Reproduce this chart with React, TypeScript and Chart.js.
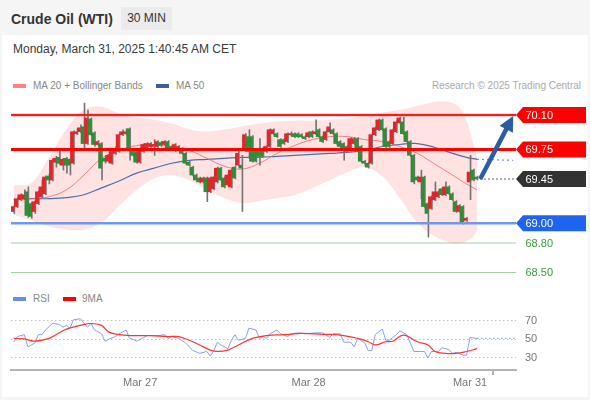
import React, { useEffect, useRef } from 'react';
import { Chart, registerables } from 'chart.js';

Chart.register(...registerables);

const FONT = '"Liberation Sans", Arial, Helvetica, sans-serif';

// ---- 30-minute candles (index 0 = first bar on the chart) ----
const opens = [69.12,69.17,69.24,69.25,69.32,69.20,69.12,69.20,69.27,69.30,69.48,69.44,69.62,69.67,69.59,69.66,69.65,69.61,69.91,69.93,69.98,69.81,70.06,69.92,69.80,69.81,69.66,69.63,69.61,69.71,69.73,69.90,69.91,69.96,69.73,69.73,69.62,69.73,69.76,69.78,69.78,69.78,69.82,69.80,69.83,69.78,69.74,69.75,69.76,69.71,69.62,69.57,69.49,69.46,69.42,69.46,69.32,69.35,69.42,69.56,69.46,69.39,69.37,69.57,69.59,69.59,69.74,69.88,69.88,69.74,69.76,69.76,69.73,69.78,69.91,69.91,69.85,69.85,69.83,69.90,69.91,69.91,69.90,69.88,69.88,69.93,69.91,69.95,69.88,69.85,69.93,69.95,69.91,69.83,69.81,69.78,69.74,69.81,69.86,69.78,69.63,69.61,69.61,69.90,69.95,70.05,69.96,69.83,69.81,69.93,70.02,70.03,69.93,69.83,69.69,69.47,69.42,69.47,69.20,69.15,69.24,69.27,69.35,69.29,69.37,69.30,69.22,69.12,69.17,69.03,69.42,69.54,69.47];
const highs = [69.18,69.26,69.30,69.34,69.37,69.21,69.23,69.33,69.44,69.48,69.50,69.65,69.68,69.73,69.66,69.67,69.66,69.94,69.96,70.00,70.22,70.15,70.07,69.93,69.84,69.82,69.67,69.70,69.74,69.78,69.91,69.95,69.96,69.97,69.74,69.74,69.75,69.81,69.82,69.82,69.85,69.84,69.83,69.84,69.84,69.79,69.81,69.79,69.77,69.72,69.63,69.58,69.50,69.47,69.47,69.47,69.47,69.48,69.57,69.57,69.47,69.50,69.55,69.58,69.74,69.69,69.91,69.95,69.89,69.75,69.86,69.77,69.79,69.96,69.96,69.92,69.86,69.86,69.92,69.93,69.92,69.92,69.91,69.89,69.93,69.94,70.05,69.96,69.89,69.94,70.02,69.96,69.92,69.84,69.82,69.79,69.87,69.87,69.87,69.79,69.64,69.62,69.91,69.98,70.06,70.06,69.97,69.84,69.96,70.04,70.08,70.08,69.94,69.84,69.70,69.48,69.54,69.48,69.21,69.28,69.42,69.33,69.36,69.42,69.38,69.31,69.23,69.19,69.18,69.06,69.69,69.55,69.48];
const lows = [69.10,69.16,69.23,69.24,69.06,69.05,69.10,69.19,69.26,69.29,69.40,69.43,69.57,69.60,69.54,69.51,69.49,69.60,69.90,69.92,69.76,69.80,69.89,69.78,69.79,69.44,69.61,69.62,69.60,69.70,69.72,69.89,69.90,69.64,69.68,69.61,69.61,69.72,69.75,69.77,69.69,69.77,69.78,69.79,69.75,69.74,69.73,69.74,69.70,69.60,69.58,69.48,69.43,69.41,69.41,69.22,69.31,69.34,69.41,69.43,69.36,69.38,69.36,69.45,69.58,69.12,69.73,69.66,69.62,69.62,69.59,69.67,69.72,69.77,69.90,69.87,69.77,69.80,69.82,69.89,69.87,69.87,69.87,69.85,69.87,69.87,69.90,69.87,69.82,69.84,69.92,69.90,69.80,69.77,69.64,69.72,69.73,69.80,69.75,69.62,69.59,69.56,69.60,69.89,69.94,69.94,69.77,69.77,69.80,69.92,70.01,69.90,69.82,69.68,69.40,69.43,69.25,69.16,68.86,69.14,69.23,69.26,69.28,69.28,69.29,69.23,69.11,69.11,68.99,69.02,69.24,69.43,69.44];
const closes = [69.17,69.25,69.29,69.29,69.08,69.07,69.22,69.32,69.37,69.47,69.44,69.64,69.66,69.61,69.65,69.59,69.59,69.93,69.93,69.97,69.81,70.07,69.90,69.80,69.83,69.56,69.63,69.69,69.73,69.76,69.90,69.93,69.93,69.74,69.69,69.62,69.74,69.80,69.81,69.81,69.80,69.83,69.79,69.83,69.76,69.75,69.80,69.78,69.71,69.61,69.59,69.49,69.44,69.42,69.46,69.32,69.46,69.47,69.56,69.44,69.37,69.49,69.54,69.46,69.71,69.56,69.90,69.73,69.63,69.63,69.68,69.68,69.78,69.95,69.95,69.88,69.78,69.81,69.91,69.91,69.88,69.88,69.88,69.86,69.92,69.88,69.93,69.88,69.83,69.93,69.98,69.91,69.81,69.78,69.74,69.73,69.86,69.86,69.76,69.63,69.61,69.57,69.90,69.97,70.05,69.95,69.78,69.78,69.95,70.03,70.07,69.91,69.83,69.69,69.42,69.44,69.47,69.17,69.10,69.27,69.32,69.32,69.29,69.37,69.30,69.24,69.12,69.18,69.00,69.05,69.52,69.44,69.45];

// ---- x axis (bar index) ----
const xMinIdx = -0.8;
const xMaxIdx = 143.1;
const dayTickIdx = [36, 84, 130];
const dayTickLabels = ['Mar 27', 'Mar 28', 'Mar 31'];

// ---- MA 20 + Bollinger Bands ----
const bandIdx = [0,5,10,15,20,25,30,35,40,45,50,55,60,65,70,75,80,85,90,95,100,105,110,115,120,125,127,129,131,132];
const upperBand = [69.38,69.41,69.66,69.95,70.15,70.18,70.11,70.07,70.05,70.01,69.95,69.93,69.95,69.98,70.01,70.03,70.04,70.04,70.05,70.06,70.09,70.12,70.15,70.19,70.23,70.22,70.17,70.03,69.79,69.66];
const lowerBand = [69.09,69.03,68.97,68.94,68.94,69.01,69.18,69.34,69.46,69.49,69.44,69.34,69.26,69.21,69.23,69.26,69.29,69.36,69.44,69.52,69.57,69.48,69.26,69.01,68.87,68.80,68.80,68.82,68.87,68.94];
const maIdx = [0,5,10,15,20,25,30,35,40,45,50,55,60,65,70,75,80,85,90,95,100,105,110,115,120,125,129,132];
const ma20 = [69.24,69.25,69.27,69.34,69.49,69.66,69.74,69.79,69.80,69.78,69.74,69.66,69.58,69.55,69.61,69.71,69.79,69.85,69.88,69.88,69.85,69.83,69.78,69.71,69.60,69.49,69.40,69.34];
const ma50 = [69.24,69.25,69.25,69.26,69.29,69.36,69.43,69.51,69.56,69.61,69.64,69.65,69.66,69.67,69.67,69.68,69.69,69.70,69.71,69.72,69.74,69.78,69.80,69.81,69.77,69.71,69.67,69.65];
const ma50Projection = 69.64;

// ---- RSI panel ----
const rsiIdx = [0,1,3,4,6,7,8,9,11,13,14,15,16,17,19,21,22,23,25,26,27,29,30,32,33,34,35,37,38,41,43,44,45,47,49,51,53,55,56,57,58,59,61,62,63,64,66,67,69,70,71,72,73,75,76,78,79,81,83,86,88,90,91,93,94,96,97,98,100,101,102,103,105,106,107,109,110,112,113,114,116,117,118,119,121,122,124,125,126,128,129,130,132];
const rsiVal = [47,53,55,42,46,55,55,60,67,66,63,65,62,71,72,63,67,60,56,48,50,53,56,60,51,50,48,52,54,54,55,51,53,51,46,38,35,37,32,38,47,44,40,49,55,49,51,62,60,51,53,51,56,60,56,53,56,57,56,57,57,52,56,56,47,47,42,51,46,38,38,55,61,49,49,55,59,55,46,37,37,37,30,37,37,41,39,35,36,33,33,52,51];
const rsi9Idx = [0,3,6,10,12,15,19,22,25,27,30,34,39,44,47,50,53,56,58,61,64,68,72,77,82,88,93,98,101,103,106,108,111,115,118,120,123,126,129,132];
const rsi9Val = [51,50.5,48,51,55,61,65,67,65,58,55,54,54,53,53,49,44,38.5,37,38.5,44,51,54,55,56.4,55.4,54.6,51,47.4,44,47.4,48,54.6,47.4,44,37,35,35,37,40];
const rsiProjection = 51;
const rsiTicks = [30, 50, 70];

// ---- key levels and target ----
const levelValues = [70.10, 69.75, 69.45, 69.00, 68.80, 68.50];
const levelLabels = ['70.10', '69.75', '69.45', '69.00', '68.80', '68.50'];
const arrowFromIdx = 132.9;
const arrowFromPrice = 69.45;
const arrowToIdx = 142.3;
const arrowToPrice = 70.09;

const levelStyles = [
  { line: '#ff1a1a', width: 2, halo: 'rgba(255,90,90,0.3)', box: '#ff0000', text: '#ffffff' },
  { line: '#ff0000', width: 3, halo: null, box: '#ff0000', text: '#ffffff' },
  { line: null, width: 0, halo: null, box: '#333333', text: '#ffffff', dotted: '#333333' },
  { line: '#6f97ec', width: 2.5, halo: null, box: '#1f64f0', text: '#ffffff' },
  { line: '#9fd09f', width: 1.2, halo: null, box: null, text: '#3c9a3c' },
  { line: '#9fd09f', width: 1.2, halo: null, box: null, text: '#3c9a3c' },
];

const UP = '#e0262a';
const DOWN = '#2f8d38';

const levelsPlugin = {
  id: 'levelsAndTarget',
  afterDatasetsDraw(chart: any) {
    const { ctx, chartArea, scales } = chart;
    const xs = scales.x;
    const ys = scales.y;
    ctx.save();
    levelValues.forEach((v, k) => {
      const st: any = levelStyles[k];
      const py = ys.getPixelForValue(v);
      if (st.line) {
        if (st.halo) {
          ctx.beginPath();
          ctx.strokeStyle = st.halo;
          ctx.lineWidth = st.width + 1.5;
          ctx.moveTo(chartArea.left, py);
          ctx.lineTo(chartArea.right, py);
          ctx.stroke();
        }
        ctx.beginPath();
        ctx.strokeStyle = st.line;
        ctx.lineWidth = st.width;
        ctx.moveTo(chartArea.left, py);
        ctx.lineTo(chartArea.right, py);
        ctx.stroke();
      }
      if (st.dotted) {
        ctx.beginPath();
        ctx.setLineDash([1.5, 2.5]);
        ctx.strokeStyle = st.dotted;
        ctx.lineWidth = 1.2;
        ctx.moveTo(xs.getPixelForValue(arrowFromIdx), py);
        ctx.lineTo(chartArea.right, py);
        ctx.stroke();
        ctx.setLineDash([]);
      }
      const r = chartArea.right;
      if (st.box) {
        ctx.beginPath();
        ctx.fillStyle = st.box;
        ctx.moveTo(r, py);
        ctx.lineTo(r + 7, py - 8);
        ctx.lineTo(r + 70, py - 8);
        ctx.lineTo(r + 70, py + 8);
        ctx.lineTo(r + 7, py + 8);
        ctx.closePath();
        ctx.fill();
      }
      ctx.fillStyle = st.text;
      ctx.font = '11px ' + FONT;
      ctx.textBaseline = 'middle';
      ctx.textAlign = 'left';
      ctx.fillText(levelLabels[k], r + 9.5, py + 0.5);
    });

    // target arrow
    const x0 = xs.getPixelForValue(arrowFromIdx);
    const y0 = ys.getPixelForValue(arrowFromPrice);
    const x1 = xs.getPixelForValue(arrowToIdx);
    const y1 = ys.getPixelForValue(arrowToPrice);
    const ang = Math.atan2(y1 - y0, x1 - x0);
    const headLen = 15;
    const headHalf = 7.5;
    const bx = x1 - headLen * Math.cos(ang);
    const by = y1 - headLen * Math.sin(ang);
    ctx.strokeStyle = '#2c5ca6';
    ctx.fillStyle = '#2c5ca6';
    ctx.lineWidth = 4.5;
    ctx.lineCap = 'butt';
    ctx.beginPath();
    ctx.moveTo(x0, y0);
    ctx.lineTo(bx + Math.cos(ang), by + Math.sin(ang));
    ctx.stroke();
    ctx.beginPath();
    ctx.moveTo(x1, y1);
    ctx.lineTo(bx - headHalf * Math.sin(ang), by + headHalf * Math.cos(ang));
    ctx.lineTo(bx + headHalf * Math.sin(ang), by - headHalf * Math.cos(ang));
    ctx.closePath();
    ctx.fill();
    ctx.restore();
  },
};

const pts = (idx: number[], vals: number[]) => idx.map((i, k) => ({ x: i, y: vals[k] }));

export default function App() {
  const ref = useRef<HTMLCanvasElement>(null);

  useEffect(() => {
    Chart.defaults.font.family = FONT;
    const barIdx = opens.map((_, i) => i);
    const bodyColors = barIdx.map((i) => (closes[i] >= opens[i] ? UP : DOWN));
    const lastIdx = barIdx[barIdx.length - 1];

    const chart = new Chart(ref.current as HTMLCanvasElement, {
      type: 'line',
      data: {
        datasets: [
          {
            type: 'bar',
            label: 'body',
            data: barIdx.map((i) => ({ x: i, y: [opens[i], closes[i]] })) as any,
            backgroundColor: bodyColors,
            barThickness: 3,
            minBarLength: 1,
            yAxisID: 'y',
            order: 1,
          } as any,
          {
            type: 'bar',
            label: 'wick',
            data: barIdx.map((i) => ({ x: i, y: [lows[i], highs[i]] })) as any,
            backgroundColor: '#747474',
            barThickness: 1,
            yAxisID: 'y',
            order: 2,
          } as any,
          {
            label: 'MA 20',
            data: pts(maIdx, ma20),
            borderColor: 'rgba(236,100,100,0.8)',
            borderWidth: 1,
            pointRadius: 0,
            tension: 0.4,
            yAxisID: 'y',
            order: 5,
          },
          {
            label: 'MA 50',
            data: pts(maIdx, ma50),
            borderColor: '#4a6ea8',
            borderWidth: 1.2,
            pointRadius: 0,
            tension: 0.4,
            yAxisID: 'y',
            order: 5,
          },
          {
            label: 'MA 50 projection',
            data: [
              { x: lastIdx, y: ma50[ma50.length - 1] },
              { x: arrowToIdx, y: ma50Projection },
            ],
            borderColor: '#6f8cc4',
            borderWidth: 1.2,
            borderDash: [2, 3],
            pointRadius: 0,
            yAxisID: 'y',
            order: 5,
          },
          {
            label: 'Upper band',
            data: pts(bandIdx, upperBand),
            borderColor: 'rgba(255,0,0,0.05)',
            borderWidth: 1,
            backgroundColor: 'rgba(255,0,0,0.11)',
            fill: '+1',
            pointRadius: 0,
            tension: 0.4,
            yAxisID: 'y',
            order: 10,
          },
          {
            label: 'Lower band',
            data: pts(bandIdx, lowerBand),
            borderColor: 'rgba(255,0,0,0.05)',
            borderWidth: 1,
            pointRadius: 0,
            tension: 0.4,
            yAxisID: 'y',
            order: 10,
          },
          {
            label: 'RSI',
            data: pts(rsiIdx, rsiVal),
            borderColor: '#86a2ee',
            borderWidth: 1,
            pointRadius: 0,
            tension: 0,
            yAxisID: 'rsi',
            order: 4,
          },
          {
            label: 'RSI projection',
            data: [
              { x: lastIdx, y: rsiVal[rsiVal.length - 1] },
              { x: xMaxIdx, y: rsiProjection },
            ],
            borderColor: '#86a2ee',
            borderWidth: 1.2,
            borderDash: [1.5, 2.5],
            pointRadius: 0,
            yAxisID: 'rsi',
            order: 4,
          },
          {
            label: '9MA',
            data: pts(rsi9Idx, rsi9Val),
            borderColor: '#ff3434',
            borderWidth: 1.2,
            pointRadius: 0,
            tension: 0.4,
            yAxisID: 'rsi',
            order: 3,
          },
        ],
      },
      options: {
        responsive: false,
        animation: false,
        events: [],
        layout: { padding: { left: 11, top: 95, right: 0, bottom: 0 } },
        plugins: {
          legend: { display: false },
          tooltip: { enabled: false },
        },
        scales: {
          x: {
            type: 'linear',
            min: xMinIdx,
            max: xMaxIdx,
            offset: false,
            afterBuildTicks: (axis: any) => {
              axis.ticks = [xMinIdx, ...dayTickIdx, xMaxIdx].map((v) => ({ value: v }));
            },
            afterFit: (axis: any) => {
              axis.height = 30;
            },
            ticks: {
              autoSkip: false,
              maxRotation: 0,
              padding: 1,
              color: '#777777',
              font: { size: 11 },
              callback: (value: any) => {
                const k = dayTickIdx.indexOf(Number(value));
                return k >= 0 ? dayTickLabels[k] : '';
              },
            },
            grid: {
              drawOnChartArea: false,
              drawTicks: true,
              tickLength: 5,
              lineWidth: 2,
              color: (c: any) =>
                c.tick && (c.tick.value === xMinIdx || c.tick.value === xMaxIdx) ? '#b4b4b4' : 'rgba(0,0,0,0)',
            },
            border: { display: true, color: '#b4b4b4', width: 2 },
          },
          y: {
            type: 'linear',
            display: false,
            min: 67.51,
            max: 70.303,
          },
          rsi: {
            type: 'linear',
            position: 'right',
            min: 17.13,
            max: 312,
            afterBuildTicks: (axis: any) => {
              axis.ticks = rsiTicks.map((v) => ({ value: v }));
            },
            afterFit: (axis: any) => {
              axis.width = 74;
            },
            ticks: {
              padding: 9,
              color: '#777777',
              font: { size: 11 },
            },
            grid: {
              drawTicks: false,
              color: '#c2c2c2',
              lineWidth: 1,
            },
            border: { display: false, dash: [1.5, 2.5] },
          },
        },
      } as any,
      plugins: [levelsPlugin],
    });
    return () => chart.destroy();
  }, []);

  const legendText: React.CSSProperties = {
    position: 'absolute',
    fontSize: 10,
    lineHeight: '12px',
    color: '#888888',
    whiteSpace: 'nowrap',
  };
  const swatch = (left: number, top: number, color: string): React.CSSProperties => ({
    position: 'absolute',
    left,
    top,
    width: 13,
    height: 4,
    background: color,
  });

  return (
    <div
      style={{
        position: 'absolute',
        left: 0,
        top: 0,
        width: 590,
        height: 400,
        background: '#f5f5f6',
        fontFamily: FONT,
        overflow: 'hidden',
      }}
    >
      <div style={{ position: 'absolute', left: 2, top: 35, width: 586, height: 362, background: '#ffffff' }} />
      <div
        style={{
          position: 'absolute',
          left: 11,
          top: 11,
          fontSize: 14,
          fontWeight: 'bold',
          color: '#333333',
          lineHeight: '16px',
          whiteSpace: 'nowrap',
        }}
      >
        Crude Oil (WTI)
      </div>
      <div
        style={{
          position: 'absolute',
          left: 121,
          top: 7,
          width: 51,
          height: 23,
          background: '#ebebeb',
          color: '#333333',
          fontSize: 12,
          lineHeight: '23px',
          textAlign: 'center',
          whiteSpace: 'nowrap',
        }}
      >
        30 MIN
      </div>
      <div
        style={{
          position: 'absolute',
          left: 13,
          top: 42,
          fontSize: 12,
          lineHeight: '14px',
          color: '#3a3a3a',
          whiteSpace: 'nowrap',
        }}
      >
        Monday, March 31, 2025 1:40:45 AM CET
      </div>

      <div style={swatch(13, 84, '#ff8282')} />
      <div style={{ ...legendText, left: 33, top: 80 }}>MA 20 + Bollinger Bands</div>
      <div style={swatch(156, 84, '#3b5e9f')} />
      <div style={{ ...legendText, left: 176, top: 80 }}>MA 50</div>
      <div style={{ ...legendText, right: 9, top: 80, color: '#aaaaaa' }}>Research © 2025 Trading Central</div>

      <div style={swatch(13, 297, '#6a8de6')} />
      <div style={{ ...legendText, left: 33, top: 293 }}>RSI</div>
      <div style={swatch(63, 297, '#ff0000')} />
      <div style={{ ...legendText, left: 82, top: 293 }}>9MA</div>

      <canvas
        ref={ref}
        width={590}
        height={400}
        style={{ position: 'absolute', left: 0, top: 0, width: 590, height: 400 }}
      />
    </div>
  );
}
